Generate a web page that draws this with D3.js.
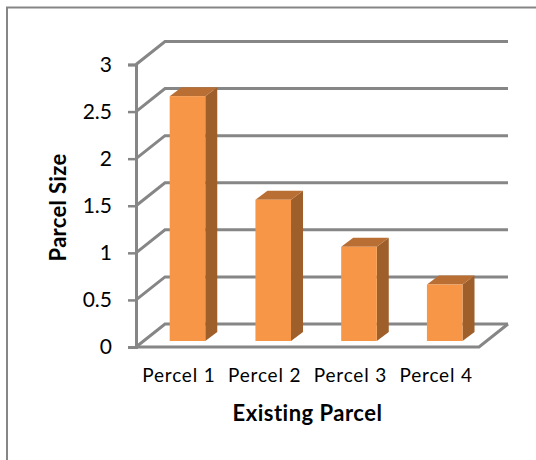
<!DOCTYPE html>
<html>
<head>
<meta charset="utf-8">
<script src="https://cdn.jsdelivr.net/npm/d3@7"></script>
<style>
  html, body { margin: 0; padding: 0; background: #fff; }
  svg { display: block; }
  text { font-family: Lato, "Open Sans", sans-serif; fill: #000; }
</style>
</head>
<body>
<svg id="chart" width="536" height="460"></svg>
<script>
const categories = ["Percel 1", "Percel 2", "Percel 3", "Percel 4"];
const parcelSizes = [2.6, 1.5, 1.0, 0.6];
const yTicks = [0, 0.5, 1, 1.5, 2, 2.5, 3];

const frontLeft = 136, frontRight = 479, floorY = 347, ceilingY = 64.5;
const wallDx = 29, wallDy = -23;      // offset of the back wall from the front plane
const barDx = 8.6, barDy = -6;        // offset of a bar's face from the front plane
const sideDx = 12, sideDy = -9;       // extrusion of a bar
const gridColor = "#868686";

const svg = d3.select("#chart");

// Chart border: only the top and left edges fall inside the page
svg.append("path")
  .attr("d", d3.line()([[7, 460], [7, 7.5], [536, 7.5]]))
  .attr("fill", "none").attr("stroke", "#868686").attr("stroke-width", 2);

const x = d3.scaleBand().domain(categories).range([frontLeft, frontRight]).paddingInner(0.585).paddingOuter(0.2925);
const xLabels = d3.scaleBand().domain(categories).range([frontLeft, frontRight]);
const y = d3.scaleLinear().domain([0, 3]).range([floorY, ceilingY]);

// Back-wall gridlines and the diagonals running along the side wall
const grid = svg.append("g").attr("fill", "none").attr("stroke", gridColor).attr("stroke-width", 3);
yTicks.forEach(t => {
  grid.append("path").attr("d", d3.line()([
    [frontLeft, y(t)],
    [frontLeft + wallDx, y(t) + wallDy],
    [frontRight + wallDx, y(t) + wallDy]
  ]));
});

// Floor outline
grid.append("path").attr("d", d3.line()([
  [frontLeft, floorY],
  [frontRight, floorY],
  [frontRight + wallDx, floorY + wallDy]
]));

// Value axis
const yAxis = d3.axisLeft(y).tickValues(yTicks).tickSize(8).tickPadding(16).tickFormat(d3.format("~g"));
const yG = svg.append("g").attr("transform", `translate(${frontLeft},0)`).call(yAxis);
yG.selectAll("line").attr("stroke", gridColor).attr("stroke-width", 2.5);
yG.select(".domain").attr("stroke", gridColor).attr("stroke-width", 3);
yG.selectAll("text").attr("font-size", 21);

// Category labels
const xAxis = d3.axisBottom(xLabels).tickSize(0).tickPadding(22);
const xG = svg.append("g").attr("transform", `translate(0,${floorY})`).call(xAxis);
xG.select(".domain").remove();
xG.selectAll("text").attr("font-size", 19).attr("letter-spacing", 0.8);

// Bars: front face, top and right side
const bars = svg.append("g").selectAll("g")
  .data(categories.map((c, i) => ({ c, v: parcelSizes[i] })))
  .join("g");
const barLeft = d => x(d.c) + barDx;
const barRight = d => barLeft(d) + x.bandwidth();
const barTop = d => y(d.v) + barDy;
const barBase = () => y(0) + barDy;

bars.append("path").attr("fill", "#9E5F2B")
  .attr("d", d => d3.line()([
    [barRight(d), barTop(d)],
    [barRight(d) + sideDx, barTop(d) + sideDy],
    [barRight(d) + sideDx, barBase() + sideDy],
    [barRight(d), barBase()]
  ]) + "Z");
bars.append("path").attr("fill", "#B96F34")
  .attr("d", d => d3.line()([
    [barLeft(d), barTop(d)],
    [barLeft(d) + sideDx, barTop(d) + sideDy],
    [barRight(d) + sideDx, barTop(d) + sideDy],
    [barRight(d), barTop(d)]
  ]) + "Z");
bars.append("rect").attr("fill", "#F79646")
  .attr("x", barLeft).attr("y", barTop)
  .attr("width", x.bandwidth())
  .attr("height", d => barBase() - barTop(d));

// Axis titles
svg.append("text").attr("x", 307.5).attr("y", 421).attr("text-anchor", "middle")
  .attr("font-size", 22).attr("letter-spacing", 0.5).attr("font-weight", 700).text("Existing Parcel");
svg.append("text").attr("transform", "translate(66,207.5) rotate(-90)").attr("text-anchor", "middle")
  .attr("font-size", 22).attr("letter-spacing", 0.3).attr("font-weight", 700).text("Parcel Size");
</script>
</body>
</html>
